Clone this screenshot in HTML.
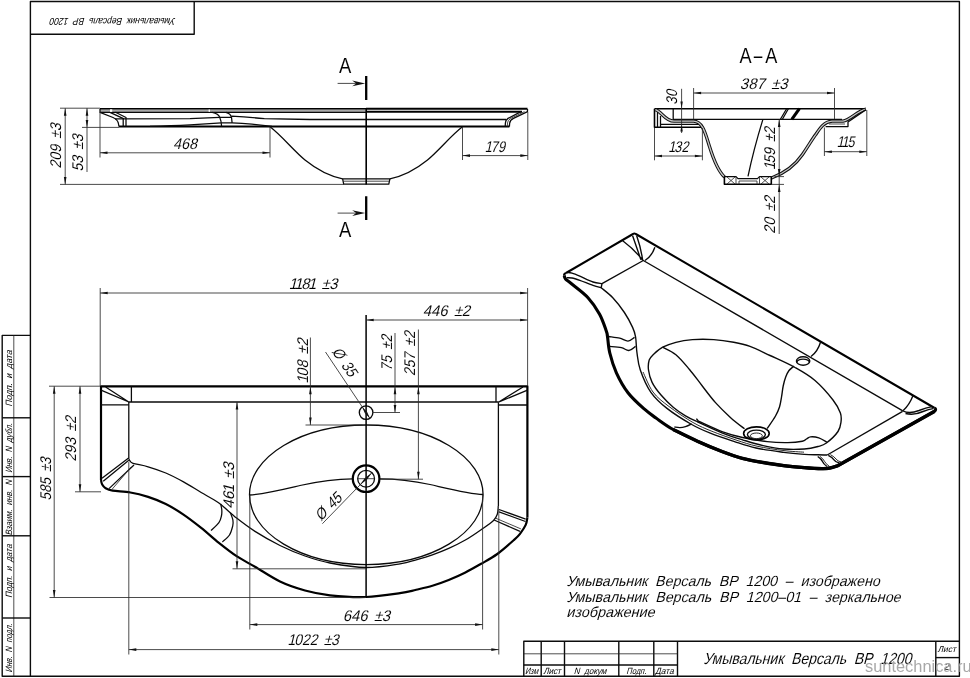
<!DOCTYPE html>
<html lang="ru"><head><meta charset="utf-8"><title>Умывальник Версаль ВР 1200</title>
<style>
html,body{margin:0;padding:0;background:#fff;}
body{width:970px;height:678px;overflow:hidden;}
svg{display:block;will-change:transform;}
path,ellipse,circle{fill:none;stroke-linecap:butt;stroke-linejoin:round;}
.t{stroke:#2a2a2a;stroke-width:.85;}
.m{stroke:#0a0a0a;stroke-width:1.28;}
.k{stroke:#000;stroke-width:1.6;}
.k2{stroke:#000;stroke-width:1.5;}
.K{stroke:#000;stroke-width:2;}
.K2{stroke:#000;stroke-width:2.2;}
.KK{stroke:#000;stroke-width:2.3;}
.K4{stroke:#000;stroke-width:3.4;}
.K3{stroke:#000;stroke-width:3.1;}
.c{stroke:#000;stroke-width:1.5;}
.iso .m{stroke-width:1.38;}
.iso .t{stroke-width:1;}
.iso .K2{stroke-width:2.05;}
.f{stroke:#0c0c0c;stroke-width:1.4;}
.f2{stroke:#222;stroke-width:.8;}
.w1{stroke:#111;stroke-width:3.3;}
.w2{stroke:#c8c8c8;stroke-width:1.3;}
.a{fill:#111;stroke:none;}
text{font-family:"Liberation Sans",sans-serif;fill:#000;white-space:pre;}
.th{stroke:#fff;stroke-width:.07;}
.d{font-style:normal;}
.u{font-style:normal;}
</style></head>
<body>
<svg width="970" height="678" viewBox="0 0 970 678">
<rect width="970" height="678" fill="#fff"/>
<g id="frame">
<path class="f" d="M30.4,676.3V1.5H959.4V676.3Z"/>
<path class="f" d="M30.4,34.3H194.2V1.5"/>
<path class="f" d="M30.4,335.4H2.2V676.3H30.4"/>
<path class="f2" d="M13.8,335.4V676.3"/>
<path class="f" d="M2.2,417.8H30.4"/>
<path class="f" d="M2.2,476.6H30.4"/>
<path class="f" d="M2.2,535.8H30.4"/>
<path class="f" d="M2.2,618H30.4"/>
<path class="f" d="M523.8,676.3V641.2H959.4"/>
<path class="f" d="M541.2,641.2V676.3"/>
<path class="f" d="M564.5,641.2V676.3"/>
<path class="f" d="M618.8,641.2V676.3"/>
<path class="f" d="M653.8,641.2V676.3"/>
<path class="f" d="M677.5,641.2V676.3"/>
<path class="f2" d="M523.8,653.8H677.5"/>
<path class="f" d="M523.8,665H677.5"/>
<path class="f" d="M935.8,641.2V676.3"/>
<path class="f" d="M935.8,657.6H959.4"/>
</g>
<text class="d" transform="translate(175.7 17.8) rotate(180) skewX(-15)" font-size="10" textLength="125.4" lengthAdjust="spacingAndGlyphs">Умывальник  Версаль  ВР  1200</text>
<text class="d" transform="translate(11.8 406.8) rotate(-90) skewX(-15)" font-size="9.2" textLength="56.4" lengthAdjust="spacingAndGlyphs">Подп.  и  дата</text>
<text class="d" transform="translate(11.8 473) rotate(-90) skewX(-15)" font-size="9.2" textLength="49.6" lengthAdjust="spacingAndGlyphs">Инв.  N  дубл.</text>
<text class="d" transform="translate(11.8 535.5) rotate(-90) skewX(-15)" font-size="9.2" textLength="55.6" lengthAdjust="spacingAndGlyphs">Взаим.  инв.  N</text>
<text class="d" transform="translate(11.8 598) rotate(-90) skewX(-15)" font-size="9.2" textLength="53.6" lengthAdjust="spacingAndGlyphs">Подп.  и  дата</text>
<text class="d" transform="translate(11.8 672.4) rotate(-90) skewX(-15)" font-size="9.2" textLength="48.6" lengthAdjust="spacingAndGlyphs">Инв.  N  подл.</text>
<text class="d" transform="translate(525 673.6) skewX(-15)" font-size="9" textLength="13.1" lengthAdjust="spacingAndGlyphs">Изм</text>
<text class="d" transform="translate(543.2 673.6) skewX(-15)" font-size="9" textLength="17.6" lengthAdjust="spacingAndGlyphs">Лист</text>
<text class="d" transform="translate(573.8 673.6) skewX(-15)" font-size="9" textLength="32.6" lengthAdjust="spacingAndGlyphs">N  докум</text>
<text class="d" transform="translate(626.2 673.6) skewX(-15)" font-size="9" textLength="20.1" lengthAdjust="spacingAndGlyphs">Подп.</text>
<text class="d" transform="translate(655 673.6) skewX(-15)" font-size="9" textLength="18.6" lengthAdjust="spacingAndGlyphs">Дата</text>
<text class="d" transform="translate(937.6 651.8) skewX(-15)" font-size="8.6" textLength="18.1" lengthAdjust="spacingAndGlyphs">Лист</text>
<text class="d" transform="translate(943.6 670.4) skewX(-15)" font-size="9.8">2</text>
<text class="d th" transform="translate(703.3 664.2) skewX(-15)" font-size="16" textLength="207.9" lengthAdjust="spacingAndGlyphs">Умывальник  Версаль  ВР  1200</text>
<text class="d th" transform="translate(566.2 586.4) skewX(-15)" font-size="14.6" textLength="313.4" lengthAdjust="spacingAndGlyphs">Умывальник  Версаль  ВР  1200  –  изображено</text>
<text class="d th" transform="translate(566.2 601.8) skewX(-15)" font-size="14.6" textLength="334.2" lengthAdjust="spacingAndGlyphs">Умывальник  Версаль  ВР  1200–01  –  зеркальное</text>
<text class="d th" transform="translate(566.2 617) skewX(-15)" font-size="14.6" textLength="88.4" lengthAdjust="spacingAndGlyphs">изображение</text>
<text x="865" y="671.6" font-size="16.4" style="fill:#a8a8a8;stroke:none">suntechnica.ru</text>
<g id="side">
<rect x="100" y="109.3" width="266" height="2.8" fill="#a8a8a8"/>
<path class="k" d="M100,108.8H366"/>
<path class="K" d="M366,108.7H527.5"/>
<path class="m" d="M100,112.3H366"/>
<path class="K" d="M366,111.7H522"/>
<path class="m" d="M115,118.9L190,118.6L219.7,117.3H231.5M231.5,116.1Q248,117.2 264.3,118.6L310,119.5H506"/>
<path class="K" d="M119,126.6H509.4"/>
<path class="m" d="M100,108.9V112.3L113,117.5Q117.5,119.5 118.3,123L119,126.6"/>
<path class="m" d="M110,112.3L124,118.9"/>
<path class="m" d="M115.5,112.3L126,117.5V126.6M123.2,118.9V126.6"/>
<rect x="110" y="109.3" width="2.2" height="2.6" fill="#fff"/>
<path class="m" d="M150,126.3Q172,125.6 190,124.8L221.4,122.9H232.1Q242,123.2 251.9,124.1L272,126.3"/>
<path class="m" d="M212.3,112.4Q218.5,113.8 219.7,117.3Q221.4,121 221.6,126.6M225.9,112.4Q230.5,113.5 231.5,117.3L232.1,122.9"/>
<rect x="208.6" y="109.5" width="1.4" height="2.3" fill="#fff"/>
<path class="m" d="M270,126.8C281,135 294,151 305,160C318,170.5 330,176.3 342.6,178.8"/>
<path class="m" d="M462.5,126.8C451.5,135 438.5,151 427.5,160C414.5,170.5 402.5,176.3 389.9,178.8"/>
<path class="m" d="M342.6,178.8H389.9L388.8,184.2H343.7Z"/>
<path class="t" d="M343,181.2H389.5"/>
<path class="m" d="M527.5,108.9V111.6L513.5,118.4Q510,120 509.6,123.5L509.4,126.6"/>
<path class="m" d="M521,111.6L508,118.4Q505.5,120 505.4,123L505.2,126.6"/>
<path class="t" d="M524.5,111.6L510.8,118.4Q507.7,120 507.5,123L507.3,126.6"/>
<path class="k" d="M366.2,108.9V184.6"/>
</g>
<path class="KK" d="M366.2,76.1V99.9M366.2,196.3V220"/>
<path class="t" d="M337.6,83.4L356,83.4"/>
<path class="a" d="M365.2,83.4L352.2,80.5L356.2,83.4L352.2,86.30000000000001Z"/>
<path class="t" d="M337.6,213.1L356,213.1"/>
<path class="a" d="M365.2,213.1L352.2,210.2L356.2,213.1L352.2,216.0Z"/>
<text class="u th" transform="translate(339.1 73.1)" font-size="22" textLength="12.3" lengthAdjust="spacingAndGlyphs">A</text>
<text class="u th" transform="translate(339.1 237.2)" font-size="22" textLength="12.3" lengthAdjust="spacingAndGlyphs">A</text>
<path class="t" d="M60,108.2L100,108.2"/>
<path class="t" d="M60,184.4L344,184.4"/>
<path class="t" d="M65.2,108.2L65.2,184.4"/>
<path class="a" d="M65.20,108.20L66.50,115.70L63.90,115.70Z"/>
<path class="a" d="M65.20,184.40L63.90,176.90L66.50,176.90Z"/>
<path class="t" d="M82,127.4L119,127.4"/>
<path class="t" d="M87,108.2L87,172"/>
<path class="a" d="M87.00,108.20L88.30,115.70L85.70,115.70Z"/>
<path class="a" d="M87.00,127.40L85.70,119.90L88.30,119.90Z"/>
<text class="d th" transform="translate(61 167.5) rotate(-90) scale(0.9041 1) skewX(-15)" font-size="15.5" x="-1.20 7.50 16.20 24.90 31.80 40.00">209 ±3</text>
<text class="d th" transform="translate(82.5 170.5) rotate(-90) scale(0.9007 1) skewX(-15)" font-size="15.5" x="-1.20 7.50 16.20 23.10 31.30">53 ±3</text>
<path class="t" d="M100,112L100,157.5"/>
<path class="t" d="M270,127L270,157.5"/>
<path class="t" d="M100,152.8L270,152.8"/>
<path class="a" d="M100.00,152.80L107.50,151.50L107.50,154.10Z"/>
<path class="a" d="M270.00,152.80L262.50,154.10L262.50,151.50Z"/>
<text class="d th" transform="translate(174 149) scale(0.9246 1) skewX(-15)" font-size="15.5" x="-1.20 7.50 16.20">468</text>
<path class="t" d="M462.5,127L462.5,160"/>
<path class="t" d="M527.8,112L527.8,160"/>
<path class="t" d="M462.5,155.6L527.8,155.6"/>
<path class="a" d="M462.50,155.60L470.00,154.30L470.00,156.90Z"/>
<path class="a" d="M527.80,155.60L520.30,156.90L520.30,154.30Z"/>
<text class="d th" transform="translate(487 151.6) scale(0.8170 1) skewX(-15)" font-size="15.5" x="-2.70 4.70 13.40">179</text>
<g id="sec">
<text class="u th" transform="translate(739.4 63.3)" font-size="22.7" textLength="12.1" lengthAdjust="spacingAndGlyphs">A</text>
<text class="u th" transform="translate(753.8 63.3)" font-size="22.7" textLength="8.6" lengthAdjust="spacingAndGlyphs">–</text>
<text class="u th" transform="translate(765.2 63.3)" font-size="22.7" textLength="12.1" lengthAdjust="spacingAndGlyphs">A</text>
<path class="k" d="M654.5,108.7H866"/>
<path class="k" d="M654.5,108.7V127.2H702.5"/>
<path class="m" d="M657.5,112V127.2M660.5,116V127.2"/>
<path class="m" d="M660.5,124.4H699"/>
<path class="m" d="M673.2,108.7V119.3H842"/>
<path class="w1" d="M655.5,109.6C662,112 665,121 674,121.2H693.5C703,121.5 705.5,134 709.5,146.5C714,161 718,171 724.5,177"/>
<path class="w2" d="M655.5,109.6C662,112 665,121 674,121.2H693.5C703,121.5 705.5,134 709.5,146.5C714,161 718,171 724.5,177"/>
<path class="w1" d="M771.5,178C785,173 795,165.5 802.5,154.5C809,145 812,139.5 815.7,134.6C820,128 824,121.8 832,121.2H843C850,120 858,110.5 866,109.2"/>
<path class="w2" d="M771.5,178C785,173 795,165.5 802.5,154.5C809,145 812,139.5 815.7,134.6C820,128 824,121.8 832,121.2H843C850,120 858,110.5 866,109.2"/>
<path class="m" d="M825.6,126.6H848V122L866,109.6"/>
<path class="t" d="M829,124H845"/>
<path class="k" d="M724.4,176.3V184.3H771.3V176.6"/>
<path class="m" d="M724.4,176.6H736L738,178.6H757.5L759.5,176.6H771.3"/>
<path class="t" d="M736,176.6V184.3M759.5,176.6V184.3M739,181H757V184.3M739,181V184.3"/>
<path class="t" d="M727,177L735,184M735,177L727,184M761,177L769,184M769,177L761,184"/>
<path class="m" d="M762.9,119.4Q753.5,150 748,176.4"/>
<path class="m" d="M786.6,108.7L780.4,119.3M788.4,108.7L782.4,119.3"/>
<path class="K3" d="M799.4,108.7L791.8,119.3"/>
</g>
<path class="t" d="M693.6,88L693.6,119"/>
<path class="t" d="M834.5,88L834.5,119"/>
<path class="t" d="M693.6,93L834.5,93"/>
<path class="a" d="M693.60,93.00L701.10,91.70L701.10,94.30Z"/>
<path class="a" d="M834.50,93.00L827.00,94.30L827.00,91.70Z"/>
<text class="d th" transform="translate(741 89.2) scale(0.9551 1) skewX(-15)" font-size="15.5" x="-1.20 7.50 16.20 24.90 31.80 40.00">387 ±3</text>
<path class="t" d="M681.6,88.8L681.6,133"/>
<path class="a" d="M681.60,108.40L680.40,101.40L682.80,101.40Z"/>
<path class="a" d="M681.60,124.60L682.80,131.60L680.40,131.60Z"/>
<text class="d th" transform="translate(677.2 103.8) rotate(-90) scale(0.8606 1) skewX(-15)" font-size="15.5" x="-1.20 7.50">30</text>
<path class="t" d="M654.5,128L654.5,160.3"/>
<path class="t" d="M702.4,128L702.4,160.3"/>
<path class="t" d="M654.5,156L702.4,156"/>
<path class="a" d="M654.50,156.00L662.00,154.70L662.00,157.30Z"/>
<path class="a" d="M702.40,156.00L694.90,157.30L694.90,154.70Z"/>
<text class="d th" transform="translate(670.5 151.8) scale(0.8170 1) skewX(-15)" font-size="15.5" x="-2.70 4.70 13.40">132</text>
<path class="t" d="M824.4,127.5L824.4,156"/>
<path class="t" d="M866.8,110L866.8,156"/>
<path class="t" d="M824.4,151.7L866.8,151.7"/>
<path class="a" d="M824.40,151.70L831.90,150.40L831.90,153.00Z"/>
<path class="a" d="M866.80,151.70L859.30,153.00L859.30,150.40Z"/>
<text class="d th" transform="translate(839 147.2) scale(0.8061 1) skewX(-15)" font-size="15.5" x="-2.70 3.20 10.60">115</text>
<path class="t" d="M779.2,119.5L779.2,234"/>
<path class="a" d="M779.20,119.50L780.50,127.00L777.90,127.00Z"/>
<path class="a" d="M779.20,176.60L777.90,169.10L780.50,169.10Z"/>
<path class="a" d="M779.20,184.40L780.50,191.90L777.90,191.90Z"/>
<path class="t" d="M774.5,176.6L784,176.6"/>
<path class="t" d="M771.5,184.4L784,184.4"/>
<text class="d th" transform="translate(774.5 167.6) rotate(-90) scale(0.8831 1) skewX(-15)" font-size="15.5" x="-2.70 4.70 13.40 22.10 29.00 37.20">159 ±2</text>
<text class="d th" transform="translate(775 232.6) rotate(-90) scale(0.9132 1) skewX(-15)" font-size="15.5" x="-1.20 7.50 16.20 23.10 31.30">20 ±2</text>
<g id="plan">
<path class="K2" d="M527.4,517.6V386.4H101V480"/>
<path class="K2" d="M101.0,480.0C101.2,480.8 101.4,483.1 102.2,484.5C103.0,485.9 103.8,487.2 105.6,488.2C107.3,489.2 108.6,490.0 112.7,490.7C116.8,491.4 124.5,491.5 130.4,492.5C136.3,493.5 142.2,495.0 148.1,496.9C154.0,498.8 159.9,501.1 165.8,504.0C171.7,506.9 177.6,510.6 183.5,514.6C189.4,518.6 195.3,523.2 201.2,527.9C207.1,532.6 213.0,538.2 218.9,542.9C224.8,547.6 230.6,552.2 236.6,556.2C242.6,560.2 247.8,562.6 255.0,566.8C262.2,571.0 271.7,577.5 280.0,581.5C288.3,585.5 296.7,588.2 305.0,590.5C313.3,592.8 319.8,594.2 330.0,595.3C340.2,596.4 354.3,597.4 366.0,597.0C377.7,596.6 391.6,594.4 400.0,593.2C408.4,592.0 410.8,591.0 416.2,589.8C421.6,588.5 427.0,587.3 432.4,585.7C437.8,584.1 443.3,582.2 448.7,580.0C454.1,577.8 459.5,575.4 464.9,572.7C470.3,570.0 475.7,566.9 481.1,563.8C486.5,560.7 491.9,557.9 497.3,554.0C502.7,550.1 509.8,543.7 513.6,540.3C517.4,536.9 518.0,536.4 520.0,533.8C522.0,531.2 524.5,527.6 525.7,524.9C526.9,522.2 527.1,518.8 527.4,517.6"/>
<path class="m" d="M128.8,402H498.5"/>
<path class="m" d="M128.8,402V458M498.4,402.2V506.2"/>
<path class="m" d="M131.4,386.4V402M496,386.4V402"/>
<path class="m" d="M101,390.2L128.8,402M105.6,387L128.8,402M101,404.8H128.8"/>
<path class="m" d="M527.5,390.2L498.4,402.2M523,387L498.4,402.2M498.4,405H527.5"/>
<path class="m" d="M128.6,458L102,478.3M128.8,460.2L103.2,481.2"/>
<path class="m" d="M134,465L109,488.6"/>
<path class="t" d="M131.3,466.8L111.8,489.6"/>
<path class="m" d="M499,509.5L525.7,519.2M499,511.9L525.5,521.5"/>
<path class="m" d="M494.1,520L520,531.4"/>
<path class="t" d="M495.7,518.2L520.9,528.9"/>
<path class="m" d="M128.6,458.0C128.8,458.5 129.3,460.1 130.0,461.0C130.7,461.9 130.0,462.3 133.0,463.3C136.0,464.3 142.6,465.2 148.1,466.8C153.6,468.4 159.9,470.5 165.8,473.0C171.7,475.5 177.6,478.6 183.5,481.9C189.4,485.1 195.3,489.0 201.2,492.5C207.1,496.0 213.0,498.8 218.9,503.1C224.8,507.4 230.6,513.4 236.6,518.1C242.6,522.8 247.8,526.8 255.0,531.4C262.2,536.0 271.7,541.4 280.0,545.5C288.3,549.6 296.7,553.1 305.0,556.0C313.3,558.9 319.8,561.1 330.0,563.0C340.2,564.9 354.3,567.4 366.0,567.5C377.7,567.6 391.6,565.1 400.0,563.8C408.4,562.5 410.8,561.3 416.2,559.8C421.6,558.3 427.0,556.8 432.4,554.9C437.8,553.0 443.3,550.8 448.7,548.4C454.1,546.0 459.5,543.4 464.9,540.3C470.3,537.2 476.4,533.0 481.1,529.7C485.8,526.5 490.6,523.4 493.3,520.8C496.0,518.2 496.5,516.7 497.3,514.3C498.1,511.9 498.1,507.5 498.3,506.2"/>
<path class="m" d="M220.7,504.0C220.9,505.0 221.7,508.1 221.8,510.0C221.9,511.9 222.0,513.4 221.5,515.5C221.0,517.6 220.7,520.1 218.9,522.6C217.2,525.1 212.3,529.2 211.0,530.5"/>
<path class="m" d="M230.4,512.8C230.8,514.0 232.5,517.8 232.9,520.0C233.3,522.2 233.3,523.6 232.7,526.1C232.1,528.6 231.2,532.4 229.5,535.0C227.8,537.6 223.6,540.8 222.4,542.0"/>
<ellipse class="m" cx="366.3" cy="494.8" rx="116.8" ry="69.8"/>
<path class="m" d="M249.5,495C265,494 285,489 300,485.5C322,480.5 340,478.8 352.6,478.8M379.8,478.8C395,478.8 412,480.5 430,484.5C450,489 470,494 483,494.5"/>
<circle class="m" cx="366.1" cy="412.6" r="6.8" style="stroke-width:1.35"/>
<circle class="K2" cx="366.1" cy="478.7" r="13.3"/>
<circle class="m" cx="366.1" cy="478.7" r="8.4" style="stroke-width:1.3"/>
<path class="t" d="M357.7,478.7H374.5"/>
<path class="c" d="M366.1,315V597"/>
</g>
<path class="t" d="M100.2,288L100.2,386"/>
<path class="t" d="M527.6,288L527.6,386"/>
<path class="t" d="M100.2,293L527.6,293"/>
<path class="a" d="M100.20,293.00L107.70,291.70L107.70,294.30Z"/>
<path class="a" d="M527.60,293.00L520.10,294.30L520.10,291.70Z"/>
<text class="d th" transform="translate(291.2 288.8) scale(0.9452 1) skewX(-15)" font-size="15.5" x="-2.70 3.20 10.60 17.80 25.20 32.10 40.30">1181 ±3</text>
<path class="t" d="M366.2,320L527.6,320"/>
<path class="a" d="M366.20,320.00L373.70,318.70L373.70,321.30Z"/>
<path class="a" d="M527.60,320.00L520.10,321.30L520.10,318.70Z"/>
<text class="d th" transform="translate(423.8 315.8) scale(0.9510 1) skewX(-15)" font-size="15.5" x="-1.20 7.50 16.20 24.90 31.80 40.00">446 ±2</text>
<path class="t" d="M310.4,337.5L310.4,425"/>
<path class="a" d="M310.40,386.80L311.70,394.30L309.10,394.30Z"/>
<path class="a" d="M310.40,425.00L309.10,417.50L311.70,417.50Z"/>
<path class="t" d="M305.5,425L362.5,425"/>
<text class="d th" transform="translate(307.5 381) rotate(-90) scale(0.9264 1) skewX(-15)" font-size="15.5" x="-2.70 4.70 13.40 22.10 29.00 37.20">108 ±2</text>
<path class="t" d="M395,333L395,412.5"/>
<path class="a" d="M395.00,386.80L396.30,394.30L393.70,394.30Z"/>
<path class="a" d="M395.00,412.50L393.70,405.00L396.30,405.00Z"/>
<path class="t" d="M373,412.5L400,412.5"/>
<text class="d th" transform="translate(392 370) rotate(-90) scale(0.8759 1) skewX(-15)" font-size="15.5" x="-1.20 7.50 16.20 23.10 31.30">75 ±2</text>
<path class="t" d="M418.4,329.5L418.4,479.2"/>
<path class="a" d="M418.40,386.80L419.70,394.30L417.10,394.30Z"/>
<path class="a" d="M418.40,479.20L417.10,471.70L419.70,471.70Z"/>
<path class="t" d="M380,479.2L423,479.2"/>
<text class="d th" transform="translate(415 375) rotate(-90) scale(0.8980 1) skewX(-15)" font-size="15.5" x="-1.20 7.50 16.20 24.90 31.80 40.00">257 ±2</text>
<path class="t" d="M325.5,352L369.8,418.2"/>
<path class="a" d="M362.20,407.00L366.92,411.78L364.84,413.18Z"/>
<path class="a" d="M369.80,418.20L365.08,413.42L367.16,412.02Z"/>
<text class="d th" transform="translate(332.1 352.4) rotate(56.1) scale(0.8725 1) skewX(-15)" font-size="15.5" x="-1.20 10.40 17.60 26.30">Ø 35</text>
<path class="t" d="M322.4,523.7L371.9,472.7"/>
<path class="a" d="M360.10,484.70L364.90,477.92L366.76,479.74Z"/>
<path class="a" d="M371.90,472.70L367.10,479.48L365.24,477.66Z"/>
<text class="d th" transform="translate(321.8 520.8) rotate(-45.7) scale(0.8725 1) skewX(-15)" font-size="15.5" x="-1.20 10.40 17.60 26.30">Ø 45</text>
<path class="t" d="M49,386.2L100,386.2"/>
<path class="t" d="M75,491.8L101,491.8"/>
<path class="t" d="M49.5,597.5L366,597.5"/>
<path class="t" d="M80,386.2L80,491.8"/>
<path class="a" d="M80.00,386.20L81.30,393.70L78.70,393.70Z"/>
<path class="a" d="M80.00,491.80L78.70,484.30L81.30,484.30Z"/>
<path class="t" d="M54.2,386.2L54.2,597.5"/>
<path class="a" d="M54.20,386.20L55.50,393.70L52.90,393.70Z"/>
<path class="a" d="M54.20,597.50L52.90,590.00L55.50,590.00Z"/>
<text class="d th" transform="translate(76.2 460.5) rotate(-90) scale(0.9102 1) skewX(-15)" font-size="15.5" x="-1.20 7.50 16.20 24.90 31.80 40.00">293 ±2</text>
<text class="d th" transform="translate(51 499.5) rotate(-90) scale(0.8633 1) skewX(-15)" font-size="15.5" x="-1.20 7.50 16.20 24.90 31.80 40.00">585 ±3</text>
<path class="t" d="M237,402L237,568.8"/>
<path class="a" d="M237.00,402.00L238.30,409.50L235.70,409.50Z"/>
<path class="a" d="M237.00,568.80L235.70,561.30L238.30,561.30Z"/>
<path class="t" d="M232.5,568.8L366,568.8"/>
<text class="d th" transform="translate(233.8 507.5) rotate(-90) scale(0.9805 1) skewX(-15)" font-size="15.5" x="-1.20 7.50 14.70 22.10 29.00 37.20">461 ±3</text>
<path class="t" d="M249.8,495L249.8,629.5"/>
<path class="t" d="M482.6,495L482.6,629.5"/>
<path class="t" d="M249.8,624.6L482.6,624.6"/>
<path class="a" d="M249.80,624.60L257.30,623.30L257.30,625.90Z"/>
<path class="a" d="M482.60,624.60L475.10,625.90L475.10,623.30Z"/>
<text class="d th" transform="translate(343.8 621.2) scale(0.9510 1) skewX(-15)" font-size="15.5" x="-1.20 7.50 16.20 24.90 31.80 40.00">646 ±3</text>
<path class="t" d="M128.8,462L128.8,654.5"/>
<path class="t" d="M498.8,509L498.8,654.5"/>
<path class="t" d="M128.8,649.6L498.8,649.6"/>
<path class="a" d="M128.80,649.60L136.30,648.30L136.30,650.90Z"/>
<path class="a" d="M498.80,649.60L491.30,650.90L491.30,648.30Z"/>
<text class="d th" transform="translate(290 645) scale(0.8925 1) skewX(-15)" font-size="15.5" x="-2.70 4.70 13.40 22.10 30.80 37.70 45.90">1022 ±3</text>
<g id="iso" class="iso">
<path class="K2" d="M566,273L633,234Q634.3,233 635.8,234L934.6,408"/>
<path class="K3" d="M564.2,275.5C564.4,276.1 564.3,277.6 565.5,279.0C566.7,280.4 567.8,280.7 571.5,283.8C575.2,286.9 583.3,292.6 588.0,297.7C592.7,302.8 596.6,308.7 599.6,314.2C602.6,319.7 604.9,327.0 606.2,330.7C607.5,334.4 606.9,332.8 607.5,336.5C608.1,340.2 608.3,346.9 609.8,353.0C611.3,359.1 613.4,366.2 616.4,372.8C619.4,379.4 623.3,386.6 628.0,392.7C632.7,398.8 639.8,405.0 644.5,409.2C649.2,413.4 651.2,414.6 656.0,418.0C660.8,421.4 666.2,425.6 673.2,429.5C680.2,433.4 689.9,437.8 698.0,441.5C706.1,445.2 714.6,448.7 722.0,451.5C729.4,454.3 735.6,456.6 742.5,458.4C749.4,460.2 756.2,461.3 763.1,462.5C770.0,463.7 776.8,464.8 783.7,465.6C790.6,466.5 797.9,467.1 804.3,467.6C810.7,468.1 817.7,468.5 822.0,468.6C826.3,468.7 827.3,468.5 830.0,468.0C832.7,467.5 836.7,466.0 838.0,465.6L934.6,411.2Q936.6,409.6 934.6,408"/>
<path class="K4" d="M673.2,429.5C677.3,431.5 689.9,437.8 698.0,441.5C706.1,445.2 714.6,448.7 722.0,451.5C729.4,454.3 735.6,456.6 742.5,458.4C749.4,460.2 756.2,461.3 763.1,462.5C770.0,463.7 776.8,464.8 783.7,465.6C790.6,466.5 797.9,467.1 804.3,467.6C810.7,468.1 817.7,468.5 822.0,468.6C826.3,468.7 827.3,468.5 830.0,468.0C832.7,467.5 836.7,466.0 838.0,465.6L934.4,411.4"/>
<path class="K2" d="M566,273Q563.5,274 564.2,275.5"/>
<path class="m" d="M602,283.6L643.3,260.5L902.8,410.8"/>
<path class="m" d="M902.6,411.4L827.2,455"/>
<path class="m" d="M622.7,240.7Q634,249 643,260.5M632.6,235.7L640.9,259.7M636.7,235.7Q641,248 642.6,260M654.9,247.3Q652,256 645,260.5"/>
<path class="m" d="M567.4,272.5C568.2,272.6 569.9,272.6 572.0,273.2C574.1,273.8 576.3,274.7 579.8,276.2C583.3,277.7 589.3,280.8 593.0,282.0C596.7,283.2 600.5,283.3 602.0,283.6"/>
<path class="m" d="M566.6,277.8C567.5,277.8 569.8,277.6 572.0,278.0C574.2,278.4 576.3,279.1 579.8,280.3C583.3,281.5 589.4,284.1 593.0,285.3C596.6,286.5 599.8,287.3 601.2,287.7L602,283.6"/>
<path class="m" d="M601.2,287.7C603.1,289.4 608.9,293.6 612.8,297.7C616.7,301.8 621.1,307.6 624.4,312.5C627.7,317.4 630.7,323.3 632.6,327.4C634.5,331.5 634.9,332.7 635.6,337.0C636.3,341.3 636.2,347.5 637.0,353.0C637.8,358.5 638.0,363.4 640.3,370.0C642.6,376.6 646.4,385.9 650.9,392.3C655.4,398.7 660.2,403.0 667.0,408.4C673.8,413.8 684.5,420.4 691.7,424.5C698.9,428.6 703.1,430.3 710.3,433.2C717.5,436.1 727.5,439.3 735.1,441.8C742.7,444.3 747.9,446.2 756.0,448.0C764.1,449.8 775.7,451.3 783.7,452.4C791.8,453.5 798.6,454.0 804.3,454.4C810.0,454.8 814.2,454.7 818.0,454.8C821.8,454.9 825.7,455.0 827.2,455.0"/>
<path class="m" d="M609.0,336.5C610.8,336.8 616.5,337.4 619.7,338.2C622.9,339.0 625.5,341.2 628.0,341.1C630.5,341.0 633.5,337.9 634.6,337.3"/>
<path class="m" d="M609.8,346.4C611.7,346.6 618.2,347.0 621.4,347.7C624.6,348.4 626.4,350.7 628.8,350.5C631.2,350.3 634.5,347.1 635.6,346.4"/>
<path class="m" d="M820.6,342Q817.5,352 811,356.5M913,395.6Q909.5,405 903,410.8"/>
<path class="m" d="M903,411C908,413.5 914,412.5 919,410.5Q926,407.5 932,406.6M905.5,413.5C912,415.3 918,413.8 923,411.5Q929,409 933,408.6"/>
<path class="m" d="M817.7,456.5Q821.5,459 822.5,461.5T827,466.5M828.3,455.4Q832.5,457.5 834,459.8T839.4,463"/>
<path class="t" d="M819.8,456.3Q823.5,459 824.5,461.3T829.2,466.2M830.4,454.6Q834.5,456.8 836,459T841.2,462"/>
<path class="m" d="M662.7,347.2C666.4,345.2 671.0,343.6 675.9,342.3C680.8,341.0 686.1,340.1 692.4,339.6C698.7,339.2 706.9,339.2 713.8,339.6C720.7,340.1 727.7,341.2 733.7,342.3C739.7,343.4 744.0,344.2 750.0,346.4C756.0,348.6 762.5,352.0 770.0,355.5C777.5,359.0 787.5,363.3 795.0,367.5C802.5,371.7 808.7,375.1 815.0,380.5C821.3,385.9 828.8,394.6 833.0,400.0C837.2,405.4 839.1,409.3 840.4,413.0C841.7,416.7 841.4,418.9 841.0,422.0C840.6,425.1 840.4,428.0 838.0,431.5C835.6,435.0 829.7,440.5 826.4,443.0C823.1,445.5 821.7,445.5 818.0,446.5C814.3,447.5 810.0,448.6 804.3,449.0C798.6,449.4 790.6,449.6 783.7,449.0C776.8,448.4 770.0,447.1 763.1,445.6C756.2,444.1 749.4,441.9 742.5,439.8C735.6,437.7 729.3,435.8 721.9,432.8C714.5,429.8 704.0,424.8 697.9,422.0C691.8,419.2 689.6,418.3 685.5,415.8C681.4,413.3 677.3,410.7 673.2,407.2C669.1,403.7 664.3,398.9 660.8,394.8C657.3,390.7 654.1,386.5 652.1,382.4C650.1,378.3 649.0,373.7 648.5,370.0C648.0,366.3 648.4,362.6 649.2,360.0C650.1,357.4 651.4,356.3 653.6,354.2C655.9,352.1 659.0,349.2 662.7,347.2"/>
<path class="m" d="M696.4,418.6L698.4,421.2C702.5,423.0 715.4,429.2 722.7,431.9C730.1,434.6 735.1,435.9 742.5,437.5C749.9,439.1 759.7,440.8 767.2,441.6C774.8,442.5 781.9,442.7 787.8,442.6C793.6,442.5 799.2,441.8 802.3,441.2C805.4,440.6 805.1,439.7 806.5,439.0C807.9,438.3 808.5,437.1 810.5,436.9C812.5,436.7 816.0,437.0 818.8,437.9C821.5,438.8 825.6,441.5 827.0,442.2"/>
<path class="t" d="M643.0,372.0C644.7,375.3 648.7,386.2 653.0,392.0C657.3,397.8 662.3,401.4 669.0,406.5C675.7,411.6 685.8,418.4 693.0,422.5C700.2,426.6 704.8,428.4 712.0,431.3C719.2,434.2 728.5,437.5 736.0,440.0C743.5,442.5 749.0,444.4 757.0,446.2C765.0,448.0 776.2,449.6 784.0,450.6C791.8,451.6 800.7,451.9 804.0,452.2"/>
<path class="m" d="M674.4,427.0C675.3,427.1 678.1,427.7 680.0,427.6C681.9,427.6 683.5,427.3 685.5,426.7C687.5,426.1 690.7,424.4 691.7,423.9"/>
<path class="m" d="M662.7,347.2C664.9,348.4 671.4,351.0 675.9,354.7C680.4,358.4 685.1,364.3 689.5,369.5C693.9,374.7 698.0,380.5 702.3,386.0C706.6,391.5 710.8,397.4 715.5,402.6C720.2,407.8 725.6,413.0 730.4,417.4C735.2,421.8 742.1,426.9 744.5,428.8"/>
<path class="m" d="M794.0,366.0C793.2,366.8 790.4,368.7 789.0,370.5C787.6,372.3 786.7,374.4 785.7,377.0C784.7,379.6 783.9,382.8 783.2,386.0C782.5,389.2 782.2,393.0 781.6,396.5C781.0,400.0 780.5,403.8 779.5,407.0C778.5,410.2 777.5,412.4 775.5,416.0C773.5,419.6 768.6,426.4 767.2,428.5"/>
<ellipse class="m" cx="803.1" cy="361" rx="6.7" ry="4.3"/>
<path class="m" d="M796.7,362.4A6.5,3.9 0 0 1 809.5,362.4"/>
<ellipse class="k" cx="756.4" cy="433.4" rx="12.8" ry="6.5" fill="#fff"/>
<ellipse class="m" cx="756.4" cy="434.6" rx="9" ry="4.5"/>
<ellipse class="t" cx="756.4" cy="435.8" rx="6" ry="2.8"/>
</g>
</svg>
</body></html>
